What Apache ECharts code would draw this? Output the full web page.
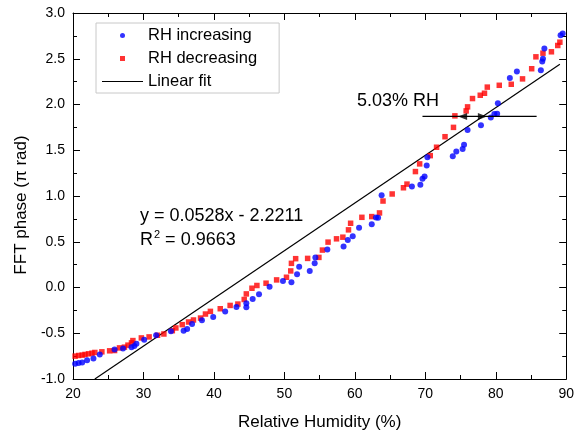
<!DOCTYPE html>
<html>
<head>
<meta charset="utf-8">
<script src="https://cdn.jsdelivr.net/npm/echarts@6/dist/echarts.min.js"></script>
<style>
html,body{margin:0;padding:0;background:#fff;}
#chart{width:577px;height:436px;}
</style>
</head>
<body>
<div id="chart"></div>
<script>
// RH increasing (blue circles): [Relative Humidity %, FFT phase (pi rad)]
const rhIncreasing = [
  [20.3,-0.834],[20.8,-0.826],[21.3,-0.819],[22.0,-0.794],[22.9,-0.776],[23.8,-0.732],
  [25.9,-0.678],[27.1,-0.667],[28.3,-0.652],[28.7,-0.638],[29.0,-0.616],[30.1,-0.57],
  [31.8,-0.522],[33.9,-0.478],[35.7,-0.472],[36.2,-0.453],[36.9,-0.399],[38.3,-0.359],
  [39.9,-0.323],[41.6,-0.261],[43.2,-0.214],[44.6,-0.217],[44.6,-0.171],[45.5,-0.127],
  [46.4,-0.073],[47.9,0.007],[49.8,0.072],[51.0,0.058],[51.8,0.145],[52.1,0.228],
  [53.6,0.181],[54.3,0.264],[54.4,0.329],[56.1,0.416],[58.4,0.449],[59.0,0.518],
  [59.7,0.561],[60.6,0.652],[62.4,0.692],[63.0,0.764],[63.3,0.761],[63.8,1.007],
  [68.1,1.104],[69.3,1.123],[69.6,1.188],[69.9,1.213],[70.2,1.333],[70.3,1.424],
  [73.9,1.435],[74.4,1.485],[75.3,1.514],[75.5,1.561],[76.0,1.721],[77.9,1.772],
  [79.3,1.859],[79.8,1.895],[80.2,1.898],[80.3,2.014],[82.0,2.289],[83.0,2.362],
  [86.4,2.373],[86.6,2.47],[86.7,2.5],[86.9,2.612],[89.2,2.757],[89.5,2.775]
];
// RH decreasing (red squares)
const rhDecreasing = [
  [20.3,-0.75],[20.8,-0.743],[21.3,-0.739],[21.7,-0.732],[22.2,-0.725],[22.7,-0.718],
  [23.1,-0.71],[24.1,-0.703],[25.2,-0.692],[25.9,-0.689],[26.6,-0.66],[27.3,-0.652],
  [27.8,-0.63],[28.3,-0.605],[28.5,-0.58],[29.7,-0.551],[30.8,-0.54],[32.0,-0.522],
  [32.9,-0.508],[34.1,-0.472],[34.6,-0.442],[35.5,-0.406],[36.4,-0.377],[37.1,-0.355],
  [38.1,-0.334],[38.8,-0.29],[39.5,-0.261],[40.9,-0.232],[42.3,-0.196],[43.4,-0.181],
  [44.3,-0.131],[44.6,-0.07],[45.4,-0.008],[46.1,0.022],[47.4,0.047],[48.9,0.083],
  [50.3,0.112],[50.9,0.181],[51.0,0.264],[51.6,0.315],[53.3,0.318],[54.9,0.329],
  [55.4,0.409],[56.2,0.496],[57.4,0.532],[58.3,0.55],[59.1,0.63],[59.4,0.702],
  [61.0,0.767],[62.4,0.775],[63.5,0.815],[64.0,0.945],[65.3,1.022],[66.9,1.09],
  [67.4,1.13],[68.6,1.267],[69.2,1.351],[70.7,1.441],[71.6,1.533],[72.8,1.648],
  [74.0,1.75],[74.2,1.876],[75.8,1.93],[76.0,1.974],[76.7,2.065],[77.8,2.101],
  [78.4,2.123],[78.8,2.19],[80.5,2.21],[82.2,2.221],[83.8,2.28],[85.1,2.391],
  [85.7,2.521],[86.7,2.561],[87.9,2.576],[88.8,2.645],[89.1,2.681]
];
// Linear fit line endpoints (as drawn)
const linearFit = [[23.1,-1.0],[89.1,2.44]];
// Hysteresis marker line and arrow heads
const gapLine = [[69.6,1.87],[85.8,1.87]];
const arrowLeft = [[75.3,1.87]];
const arrowRight = [[78.1,1.87]];

const seriesNames = ['RH increasing','RH decreasing','Linear fit'];
const equationText = 'y = 0.0528x - 2.2211';
const r2Value = '0.9663';
const gapLabel = '5.03% RH';

const FONT = 'Arial, "Liberation Sans", sans-serif';
const chart = echarts.init(document.getElementById('chart'), null, {renderer:'canvas'});

const axisCommon = {
  axisLine:{show:true,onZero:false,lineStyle:{color:'#000',width:1}},
  axisTick:{show:true,inside:true,length:7,lineStyle:{color:'#000'}},
  minorTick:{show:true,splitNumber:2,length:4,lineStyle:{color:'#000'}},
  splitLine:{show:false},
  minorSplitLine:{show:false}
};

chart.setOption({
  backgroundColor:'#fff',
  animation:false,
  grid:{left:73,right:5,top:13,bottom:54,containLabel:false},
  xAxis:[
    Object.assign({type:'value',position:'bottom',min:20,max:90,interval:10,
      name:'Relative Humidity (%)',nameLocation:'middle',nameGap:35,
      nameTextStyle:{fontFamily:FONT,fontSize:17,color:'#000'},
      axisLabel:{fontFamily:FONT,fontSize:14,color:'#000',margin:8}},axisCommon),
    Object.assign({type:'value',position:'top',min:20,max:90,interval:10,
      axisLabel:{show:false}},axisCommon)
  ],
  yAxis:[
    Object.assign({type:'value',position:'left',min:-1,max:3,interval:0.5,
      name:'FFT phase (\u03c0 rad)',nameLocation:'middle',nameGap:41,nameRotate:90,
      nameTextStyle:{fontFamily:FONT,fontSize:17,color:'#000',padding:[0,18,0,0]},
      axisLabel:{fontFamily:FONT,fontSize:14,color:'#000',margin:8,
        formatter:v=>v.toFixed(1)}},axisCommon),
    Object.assign({type:'value',position:'right',min:-1,max:3,interval:0.5,
      axisLabel:{show:false}},axisCommon)
  ],
  legend:{
    orient:'vertical',left:96,top:23,
    padding:[4,22,3,6],itemGap:6,
    itemWidth:41,itemHeight:5,
    symbolKeepAspect:true,
    borderColor:'#c8c8c8',borderWidth:1,backgroundColor:'#fff',
    textStyle:{fontFamily:FONT,fontSize:16.5,color:'#000',lineHeight:17},
    data:[
      {name:seriesNames[0],icon:'circle'},
      {name:seriesNames[1],icon:'path://M0,0L10,0L10,10L0,10Z'},
      {name:seriesNames[2],icon:'path://M0,0L40,0L40,1.2L0,1.2Z'}
    ]
  },
  series:[
    {name:seriesNames[2],type:'line',data:linearFit,symbol:'none',z:1,
      lineStyle:{color:'#000',width:1.2},itemStyle:{color:'#000'}},
    {name:seriesNames[0],type:'scatter',data:rhIncreasing,symbol:'circle',symbolSize:6,z:3,
      itemStyle:{color:'#0000ff'}},
    {name:seriesNames[1],type:'scatter',data:rhDecreasing,symbol:'rect',symbolSize:5.5,z:2,
      itemStyle:{color:'#ff0000'}},
    {name:'gap',type:'line',data:gapLine,symbol:'none',z:4,
      lineStyle:{color:'#000',width:1.3}},
    {name:'arrowL',type:'scatter',data:arrowLeft,symbol:'triangle',symbolRotate:90,
      symbolSize:[7,9],z:5,itemStyle:{color:'#000'}},
    {name:'arrowR',type:'scatter',data:arrowRight,symbol:'triangle',symbolRotate:-90,
      symbolSize:[7,9],z:5,itemStyle:{color:'#000'}}
  ],
  graphic:[
    {type:'text',left:140,top:207,z:10,
      style:{text:equationText,font:'18px '+FONT,fill:'#000'}},
    {type:'text',left:140,top:229,z:10,
      style:{text:'{r|R}{s|2}{r| = '+r2Value+'}',fill:'#000',
        rich:{r:{fontSize:18,fontFamily:FONT,fill:'#000',lineHeight:22},
              s:{fontSize:11,fontFamily:FONT,fill:'#000',verticalAlign:'top',lineHeight:22,padding:[0,0,8,1]}}}},
    {type:'text',left:357,top:92,z:10,
      style:{text:gapLabel,font:'18px '+FONT,fill:'#000'}}
  ]
});
</script>
</body>
</html>
